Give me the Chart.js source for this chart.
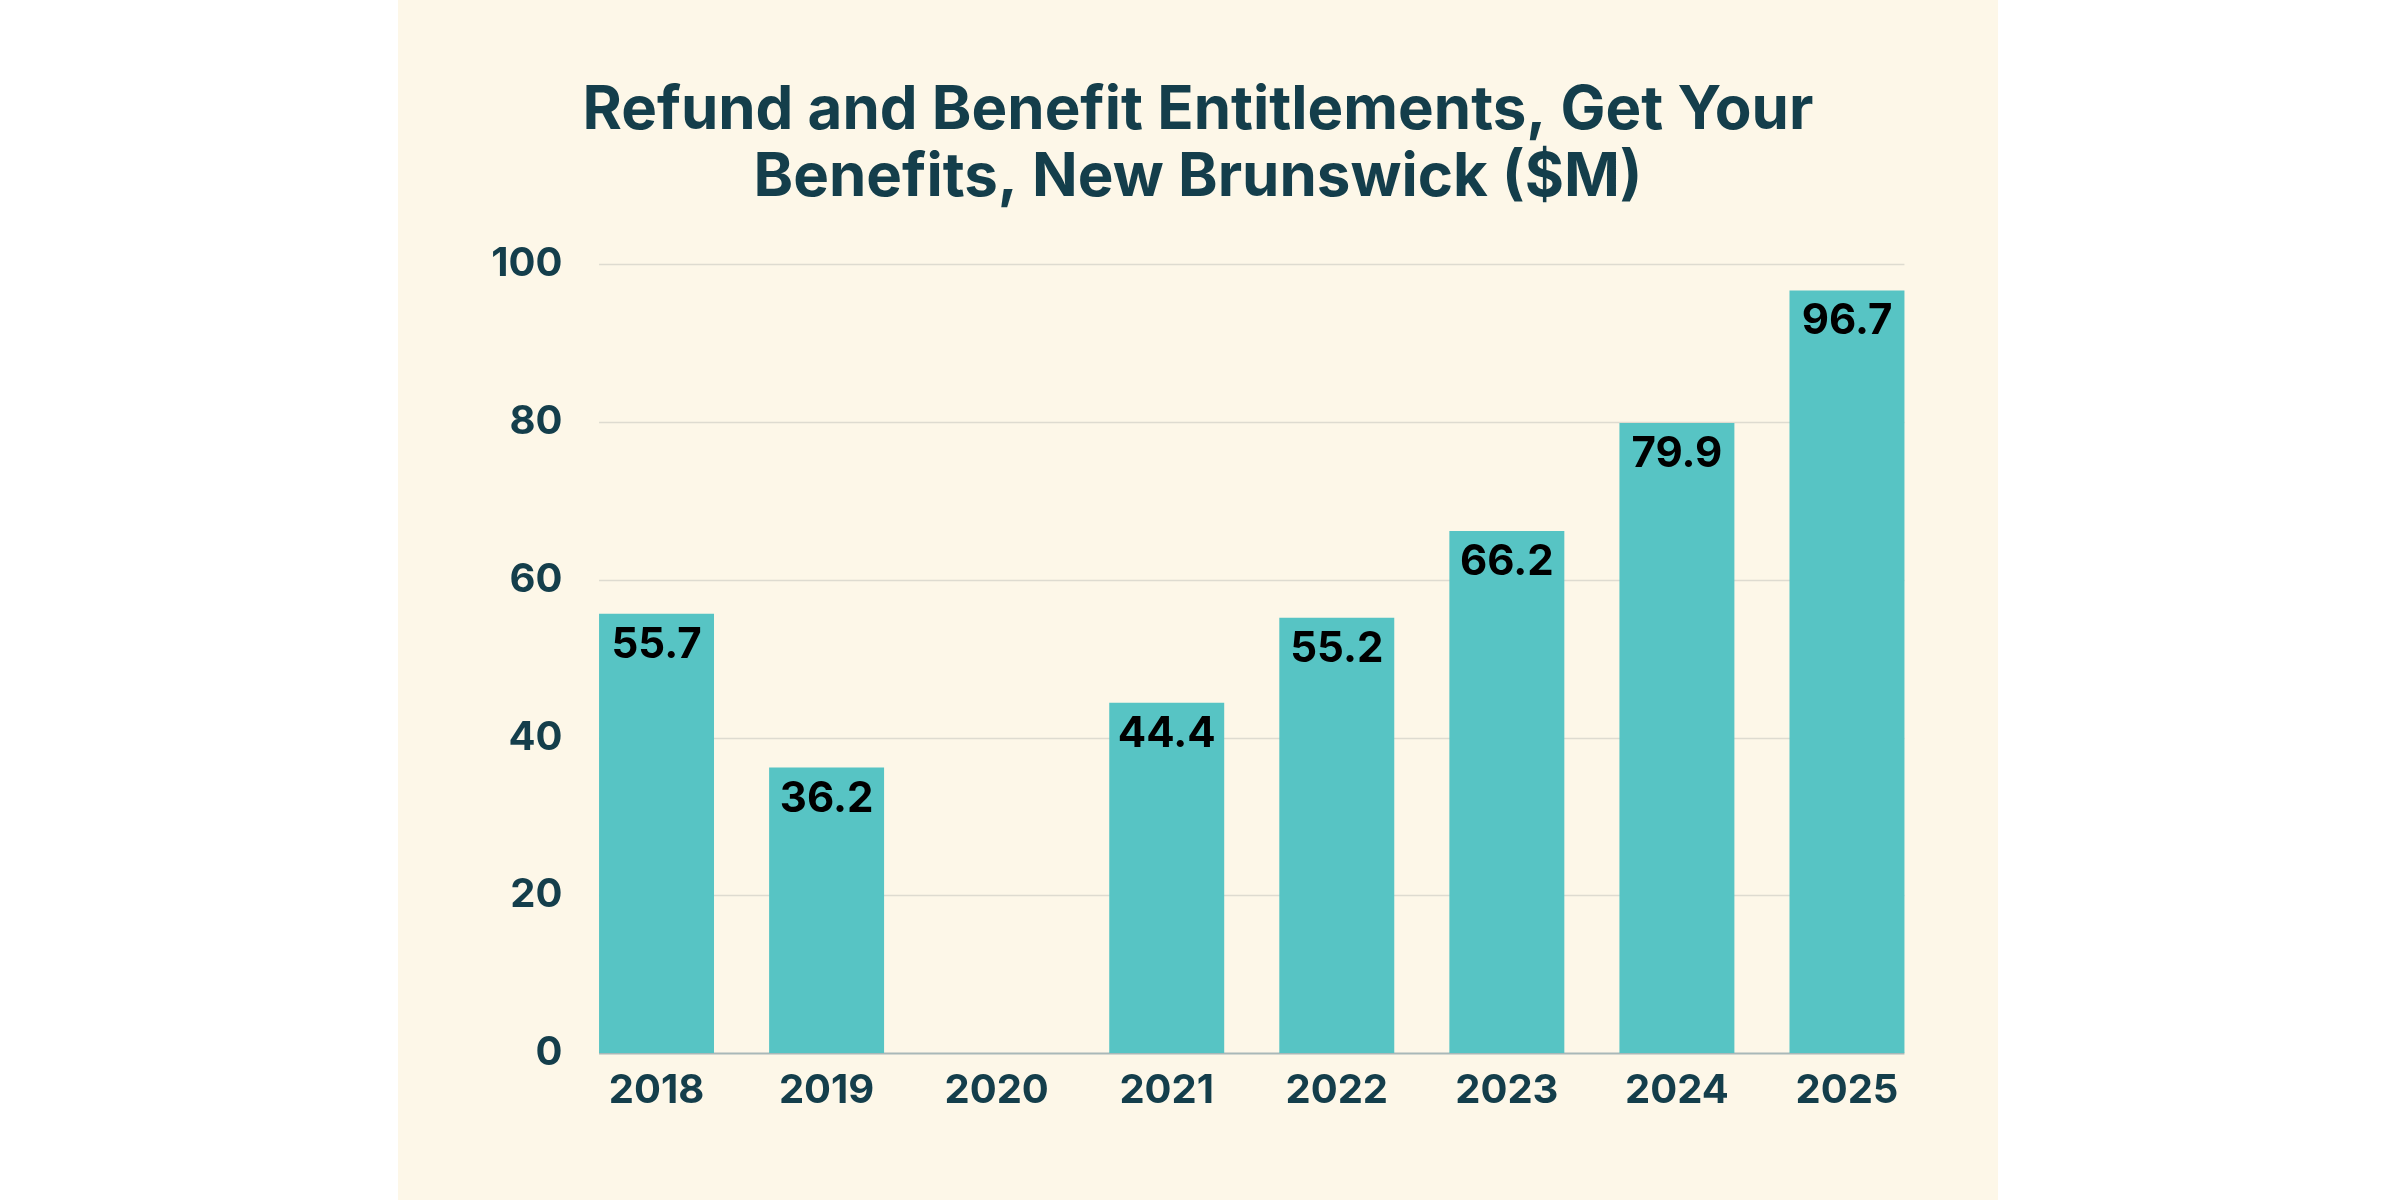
<!DOCTYPE html>
<html>
<head>
<meta charset="utf-8">
<script src="https://cdn.jsdelivr.net/npm/chart.js@4/dist/chart.umd.min.js"></script>
<style>
  html, body { margin: 0; padding: 0; background: #ffffff; }
  #panel {
    position: absolute;
    left: 398px;
    top: 0;
    width: 1600px;
    height: 1200px;
    background: #fdf7e8;
  }
  #panel canvas { display: block; }
</style>
</head>
<body>
<div id="panel"><canvas id="benefitsChart" width="1600" height="1200"></canvas></div>
<script>
const years = ['2018', '2019', '2020', '2021', '2022', '2023', '2024', '2025'];
const entitlements = [55.7, 36.2, null, 44.4, 55.2, 66.2, 79.9, 96.7];
const yTicks = [0, 20, 40, 60, 80, 100];
const titleLines = ['Refund and Benefit Entitlements, Get Your', 'Benefits, New Brunswick ($M)'];

const darkTeal = '#143e4b';
const fontFamily = 'Inter, "Open Sans", sans-serif';

// horizontal gridlines only run from the first bar's left edge to the last bar's right edge
const barSpanGrid = {
  id: 'barSpanGrid',
  beforeDatasetsDraw(chart) {
    const ctx = chart.ctx;
    const bars = chart.getDatasetMeta(0).data;
    const first = bars[0];
    const last = bars[bars.length - 1];
    const left = first.x - first.width / 2;
    const right = last.x + last.width / 2;
    const yScale = chart.scales.y;
    ctx.save();
    yTicks.forEach((v) => {
      const y = Math.round(yScale.getPixelForValue(v)) + 0.5;
      ctx.beginPath();
      if (v === 0) {
        ctx.strokeStyle = '#a9b8b8';
        ctx.lineWidth = 2;
      } else {
        ctx.strokeStyle = '#dedbd0';
        ctx.lineWidth = 1.5;
      }
      ctx.moveTo(left, y);
      ctx.lineTo(right, y);
      ctx.stroke();
    });
    ctx.restore();
  },
};

// draws the value inside the top of each bar
const barValueLabels = {
  id: 'barValueLabels',
  afterDatasetsDraw(chart) {
    const ctx = chart.ctx;
    const meta = chart.getDatasetMeta(0);
    ctx.save();
    ctx.fillStyle = '#000000';
    ctx.font = `700 42px ${fontFamily}`;
    ctx.textAlign = 'center';
    ctx.textBaseline = 'alphabetic';
    meta.data.forEach((bar, i) => {
      const value = entitlements[i];
      if (value === null) return;
      ctx.fillText(value.toFixed(1), bar.x, bar.y + 44);
    });
    ctx.restore();
  },
};

const ctx = document.getElementById('benefitsChart').getContext('2d');

new Chart(ctx, {
  type: 'bar',
  data: {
    labels: years,
    datasets: [
      {
        data: entitlements,
        backgroundColor: '#57c4c4',
        borderWidth: 0,
        categoryPercentage: 1,
        barPercentage: 0.676,
      },
    ],
  },
  options: {
    responsive: false,
    animation: false,
    devicePixelRatio: 1,
    layout: {
      padding: { left: 66, right: 66, top: 0, bottom: 71 },
    },
    scales: {
      x: {
        grid: { display: false, drawTicks: false },
        border: { display: false },
        ticks: {
          color: darkTeal,
          padding: 14,
          font: { family: fontFamily, size: 40, weight: '700' },
        },
      },
      y: {
        min: 0,
        max: 100,
        afterBuildTicks: (scale) => {
          scale.ticks = yTicks.map((v) => ({ value: v }));
        },
        afterFit: (scale) => {
          scale.width = 107.5;
        },
        grid: { display: false, drawTicks: false },
        border: { display: false },
        ticks: {
          color: darkTeal,
          padding: 9,
          font: { family: fontFamily, size: 40, weight: '700' },
        },
      },
    },
    plugins: {
      legend: { display: false },
      tooltip: { enabled: false },
      title: {
        display: true,
        text: titleLines,
        color: darkTeal,
        font: { family: fontFamily, size: 60, weight: '700', lineHeight: 1.12 },
        padding: { top: 77, bottom: 53 },
      },
    },
  },
  plugins: [barSpanGrid, barValueLabels],
});
</script>
</body>
</html>
